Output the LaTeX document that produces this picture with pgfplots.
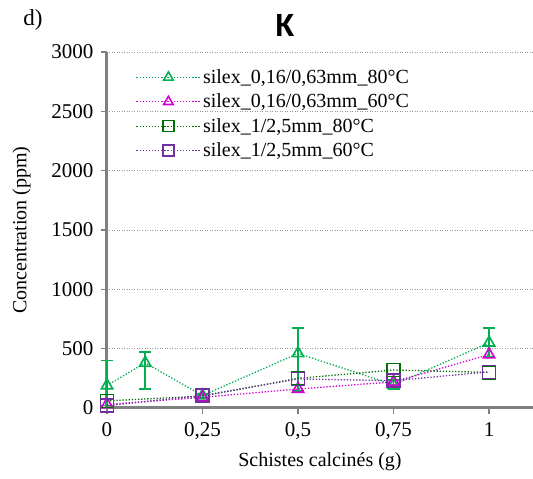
\documentclass[border=0pt]{standalone}
\usepackage{pgfplots}
\pgfplotsset{compat=1.18}
\usepackage{fontspec}
\setmainfont{Liberation Serif}
\newfontfamily\titlefont{Carlito}
\definecolor{cA}{RGB}{0,176,80}
\definecolor{cB}{RGB}{210,0,210}
\definecolor{cC}{RGB}{0,110,0}
\definecolor{cD}{RGB}{112,48,160}
\definecolor{axg}{RGB}{128,128,128}
\begin{document}
\begin{tikzpicture}
\useasboundingbox (0pt,0pt) rectangle (533pt,479pt);
\begin{axis}[
  at={(107pt,71pt)}, anchor=south west,
  width=426pt, height=356pt, scale only axis,
  xmin=0, xmax=1.115, ymin=0, ymax=3000,
  clip=false,
  axis x line=bottom, axis y line=left,
  axis line style={-, draw=axg, line width=3pt},
  xtick={0,0.25,0.5,0.75,1},
  xticklabels={0,{0,25},{0,5},{0,75},1},
  ytick={0,500,1000,1500,2000,2500,3000},
  yticklabel style={/pgf/number format/1000 sep={}},
  /pgf/number format/assume math mode=true,
  tick label style={font=\fontsize{21}{21}\selectfont},
  tick style={draw=axg, line width=1.2pt},
  major tick length=6pt,
  tick align=outside,
  yticklabel style={xshift=-4pt},
  xticklabel style={yshift=-5pt},
  ymajorgrids,
  major grid style={draw=axg!80, line width=0.9pt, dash pattern=on 1pt off 1.5pt},
  xlabel={Schistes calcinés (g)},
  ylabel={Concentration (ppm)},
  label style={font=\fontsize{20}{20}\selectfont},
  xlabel style={yshift=-6pt},
  ylabel style={yshift=14pt},
  legend style={at={(0.06,0.962)}, anchor=north west, draw=none, fill=none,
    font=\fontsize{20}{20}\selectfont, row sep=5pt,
    /tikz/every even column/.append style={column sep=12pt}},
  legend cell align=left,
  legend image code/.code={\draw[mark repeat=2,mark phase=2, mark size=5.5pt] plot coordinates {(0pt,0pt)(32pt,0pt)(64pt,0pt)};},
  every axis plot/.append style={line width=1.3pt, dash pattern=on 1.3pt off 1.8pt, mark size=6.5pt, mark options={solid, line width=1.6pt}},
]
\draw[axg, line width=3pt] (rel axis cs:0,0) -- (rel axis cs:1,0);
\draw[axg, line width=3pt] (rel axis cs:0,0) -- (rel axis cs:0,1);
\addplot[cA, mark=triangle, error bars/.cd, y dir=both, y explicit,
  error bar style={solid, line width=1.6pt}, error mark options={rotate=90, mark size=6pt, line width=1.6pt}]
  coordinates {
  (0,190) += (0,210) -= (0,170)
  (0.1,380) += (0,90) -= (0,220)
  (0.25,105) += (0,15) -= (0,15)
  (0.5,460) += (0,215) -= (0,315)
  (0.75,195) += (0,40) -= (0,40)
  (1,550) += (0,125) -= (0,120)
  };
\addlegendentry{silex\_0,16/0,63mm\_80°C}
\addplot[cB, mark=triangle] coordinates {
  (0,30) (0.25,90) (0.5,160) (0.75,220) (1,450)};
\addlegendentry{silex\_0,16/0,63mm\_60°C}
\addplot[cC, mark=square] coordinates {
  (0,60) (0.25,100) (0.5,250) (0.75,320) (1,300)};
\addlegendentry{silex\_1/2,5mm\_80°C}
\addplot[cD, mark=square] coordinates {
  (0,20) (0.25,105) (0.5,245) (0.75,230) (1,305)};
\addlegendentry{silex\_1/2,5mm\_60°C}
\end{axis}
\node[anchor=center, font=\fontsize{23}{23}\selectfont] at (33pt,459pt) {d)};
\node[anchor=center, font=\titlefont\bfseries\fontsize{34}{34}\selectfont] at (285pt,454pt) {K};
\end{tikzpicture}
\end{document}
